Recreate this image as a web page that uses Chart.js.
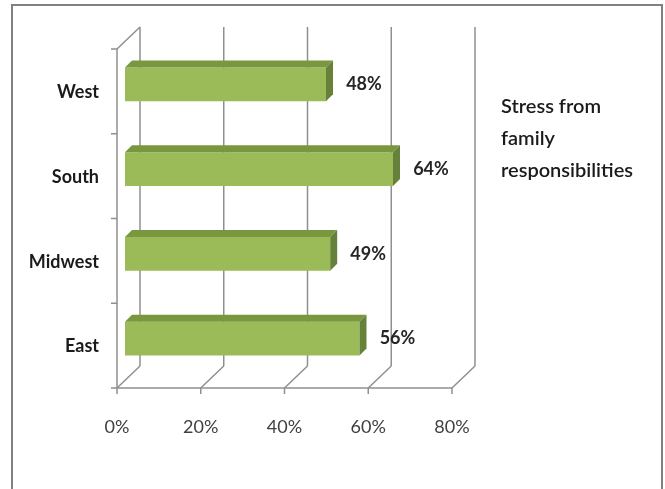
<!DOCTYPE html>
<html>
<head>
<meta charset="utf-8">
<script src="https://cdn.jsdelivr.net/npm/chart.js@4/dist/chart.umd.min.js"></script>
<style>
  html, body { margin: 0; padding: 0; background: #fff; }
  #wrap { width: 665px; height: 489px; }
</style>
</head>
<body>
<div id="wrap"><canvas id="stressChart" width="665" height="489"></canvas></div>
<script>
(function () {
  "use strict";

  // Data
  const categories = ['West', 'South', 'Midwest', 'East'];
  const stressValues = [48, 64, 49, 56];
  const xTickValues = [0, 20, 40, 60, 80];
  const seriesName = 'Stress from family responsibilities';

  // Colours
  const barFront = '#9BBB59';
  const barTop = '#78973F';
  const barSide = '#66823A';
  const gridColor = '#8f8f8f';

  // depth offsets of the front plane and back wall, relative to the bar plane
  const front = { dx: -8, dy: 7 };
  const back = { dx: 15, dy: -15 };
  const barDepth = 7;

  function line(ctx, x1, y1, x2, y2) {
    ctx.beginPath();
    ctx.moveTo(x1, y1);
    ctx.lineTo(x2, y2);
    ctx.stroke();
  }

  function wrapText(ctx, text, maxWidth) {
    const words = text.split(' ');
    const lines = [];
    let cur = '';
    words.forEach(function (w) {
      const test = cur ? cur + ' ' + w : w;
      if (cur && ctx.measureText(test).width > maxWidth) {
        lines.push(cur);
        cur = w;
      } else {
        cur = test;
      }
    });
    if (cur) lines.push(cur);
    return lines;
  }

  const frame3d = {
    id: 'frame3d',
    beforeDraw(chart) {
      const ctx = chart.ctx;
      ctx.save();
      ctx.fillStyle = '#fff';
      ctx.fillRect(0, 0, chart.width, chart.height);
      ctx.strokeStyle = '#808080';
      ctx.lineWidth = 2;
      ctx.strokeRect(12, 5, 650, 520);
      ctx.restore();
    },
    beforeDatasetsDraw(chart) {
      const ctx = chart.ctx;
      const a = chart.chartArea;
      const xs = chart.scales.x;
      ctx.save();
      ctx.strokeStyle = gridColor;
      ctx.lineWidth = 1.5;

      const xmax = xs.getPixelForValue(xTickValues[xTickValues.length - 1]);
      xTickValues.forEach(function (v) {
        const px = xs.getPixelForValue(v);
        // back wall line
        line(ctx, px + back.dx, a.top + back.dy, px + back.dx, a.bottom + back.dy);
        // floor diagonal
        line(ctx, px + front.dx, a.bottom + front.dy, px + back.dx, a.bottom + back.dy);
        // tick mark under front baseline
        line(ctx, px + front.dx, a.bottom + front.dy, px + front.dx, a.bottom + front.dy + 6);
      });
      // front baseline
      line(ctx, a.left + front.dx, a.bottom + front.dy, xmax + front.dx, a.bottom + front.dy);
      // front vertical axis
      line(ctx, a.left + front.dx, a.top + front.dy, a.left + front.dx, a.bottom + front.dy);
      // left wall top edge
      line(ctx, a.left + front.dx, a.top + front.dy, a.left + back.dx, a.top + back.dy);
      // category tick marks
      const n = categories.length;
      for (let i = 0; i <= n; i++) {
        const yy = a.top + (a.bottom - a.top) * i / n + front.dy;
        line(ctx, a.left + front.dx - 6, yy, a.left + front.dx, yy);
      }
      ctx.restore();
    },
    afterDatasetsDraw(chart) {
      const ctx = chart.ctx;
      const a = chart.chartArea;
      const meta = chart.getDatasetMeta(0);
      const d = barDepth;
      ctx.save();
      meta.data.forEach(function (bar, i) {
        const p = bar.getProps(['x', 'y', 'base', 'height'], true);
        const top = p.y - p.height / 2;
        const bottom = p.y + p.height / 2;
        // top face
        ctx.fillStyle = barTop;
        ctx.beginPath();
        ctx.moveTo(p.base, top);
        ctx.lineTo(p.x, top);
        ctx.lineTo(p.x + d, top - d);
        ctx.lineTo(p.base + d, top - d);
        ctx.closePath();
        ctx.fill();
        // side face
        ctx.fillStyle = barSide;
        ctx.beginPath();
        ctx.moveTo(p.x, top);
        ctx.lineTo(p.x + d, top - d);
        ctx.lineTo(p.x + d, bottom - d);
        ctx.lineTo(p.x, bottom);
        ctx.closePath();
        ctx.fill();

        // value label
        ctx.fillStyle = '#262626';
        ctx.font = 'bold 18px Lato';
        ctx.textAlign = 'center';
        ctx.textBaseline = 'middle';
        ctx.fillText(stressValues[i] + '%', p.x + 38, p.y);
      });

      // series name, wrapped, no key
      ctx.fillStyle = '#1a1a1a';
      ctx.font = '600 20px Lato';
      ctx.textAlign = 'left';
      ctx.textBaseline = 'alphabetic';
      const lines = wrapText(ctx, seriesName, 145);
      lines.forEach(function (t, k) {
        ctx.fillText(t, a.right + 41, 113 + k * 32);
      });
      ctx.restore();
    }
  };

  const ctx = document.getElementById('stressChart').getContext('2d');
  new Chart(ctx, {
    type: 'bar',
    data: {
      labels: categories,
      datasets: [{
        label: seriesName,
        data: stressValues,
        backgroundColor: barFront,
        borderWidth: 0,
        barPercentage: 0.4,
        categoryPercentage: 1
      }]
    },
    options: {
      indexAxis: 'y',
      responsive: false,
      animation: false,
      layout: {
        padding: { left: 0, top: 42, right: 205, bottom: 0 }
      },
      scales: {
        x: {
          min: 0,
          max: 80,
          afterFit(scale) { scale.height = 108; },
          afterBuildTicks(scale) {
            scale.ticks = xTickValues.map(function (v) { return { value: v }; });
          },
          grid: { display: false, drawTicks: false },
          border: { display: false },
          ticks: {
            padding: 35,
            labelOffset: -8,
            color: '#404040',
            font: { family: 'Lato', size: 18 },
            callback: function (v) { return v + '%'; }
          }
        },
        y: {
          afterFit(scale) { scale.width = 125; },
          grid: { display: false, drawTicks: false },
          border: { display: false },
          ticks: {
            padding: 26,
            labelOffset: 8,
            color: '#1a1a1a',
            font: { family: 'Lato', size: 18, weight: 'bold' }
          }
        }
      },
      plugins: {
        legend: { display: false },
        tooltip: { enabled: false }
      }
    },
    plugins: [frame3d]
  });
})();
</script>
</body>
</html>
